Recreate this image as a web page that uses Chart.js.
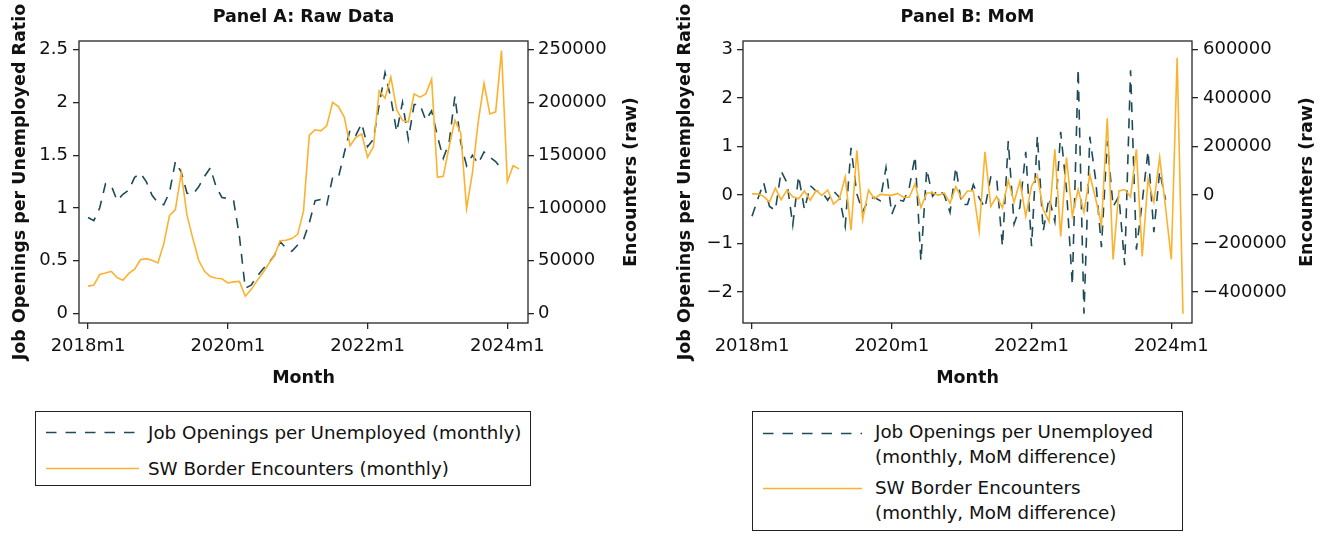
<!DOCTYPE html>
<html>
<head>
<meta charset="utf-8">
<title>Job Openings and SW Border Encounters</title>
<script src="https://cdn.jsdelivr.net/npm/chart.js@4.4.1/dist/chart.umd.min.js"></script>
<style>
  html, body { margin: 0; padding: 0; background: #ffffff; }
  body { width: 1326px; height: 533px; position: relative; overflow: hidden; font-family: "DejaVu Sans", sans-serif; }
  canvas { position: absolute; top: 0; }
  .lg { position: absolute; box-sizing: border-box; border: 1px solid #222; background: #fff; }
  .lg svg { position: absolute; left: 0; top: 0; }
  .lt { position: absolute; font-size: 18.3px; line-height: 25px; color: #111; white-space: nowrap; }
</style>
</head>
<body>
<canvas id="panelA" width="663" height="395" style="left:0px"></canvas>
<canvas id="panelB" width="663" height="395" style="left:663px"></canvas>

<div class="lg" style="left:35px; top:411px; width:496px; height:75px;">
  <svg width="494" height="73">
    <line x1="10" x2="103" y1="20.5" y2="20.5" stroke="#1d4b58" stroke-width="1.3" stroke-dasharray="10.5 9"></line>
    <line x1="10" x2="103" y1="56.5" y2="56.5" stroke="#fbb22e" stroke-width="1.3"></line>
  </svg>
  <div class="lt" style="left:112px; top:8px;">Job Openings per Unemployed (monthly)</div>
  <div class="lt" style="left:112px; top:44px;">SW Border Encounters (monthly)</div>
</div>

<div class="lg" style="left:752px; top:411px; width:431px; height:120px;">
  <svg width="429" height="118">
    <line x1="10" x2="109" y1="21.5" y2="21.5" stroke="#1d4b58" stroke-width="1.3" stroke-dasharray="10.5 9"></line>
    <line x1="10" x2="109" y1="76.5" y2="76.5" stroke="#fbb22e" stroke-width="1.3"></line>
  </svg>
  <div class="lt" style="left:122px; top:7px;">Job Openings per Unemployed<br>(monthly, MoM difference)</div>
  <div class="lt" style="left:122px; top:63px;">SW Border Encounters<br>(monthly, MoM difference)</div>
</div>

<script>
// Monthly series, January 2018 onward (index 0 = 2018m1).
const months = [];
for (let y = 2018; y <= 2024; y++) for (let m = 1; m <= 12; m++) months.push(y + 'm' + m);

// Panel A: levels
const jobRatioRaw = [
  0.91, 0.88, 1.00, 1.23, 1.21, 1.07, 1.13, 1.17, 1.29, 1.33, 1.25, 1.12,
  1.05, 1.03, 1.15, 1.44, 1.34, 1.14, 1.13, 1.20, 1.30, 1.38, 1.20, 1.10,
  1.09, 1.07, 0.73, 0.24, 0.27, 0.35, 0.42, 0.48, 0.55, 0.68, 0.62, 0.59,
  0.65, 0.70, 0.86, 1.07, 1.08, 1.03, 1.29, 1.29, 1.52, 1.74, 1.69, 1.80,
  1.58, 1.65, 1.98, 2.28, 2.04, 1.72, 2.00, 1.65, 1.98, 1.98, 1.83, 1.92,
  1.68, 1.47, 1.62, 2.06, 1.62, 1.40, 1.50, 1.42, 1.53, 1.48, 1.44, 1.37
];
const encountersRaw = [
  26000, 27000, 37000, 38500, 40000, 34000, 31500, 38000, 42000, 51000, 52000, 50500,
  48000, 66000, 93000, 98500, 133000, 93000, 71000, 50500, 40000, 35000, 33500, 33000,
  29000, 30000, 30500, 16400, 22700, 31000, 38500, 47000, 55000, 69000, 69500, 71000,
  75000, 97000, 169000, 174000, 173000, 178000, 200000, 196000, 186000, 159000, 167000, 170000,
  148000, 158000, 211000, 204000, 224000, 193000, 183000, 181500, 208000, 205000, 208000, 222000,
  129000, 130000, 158000, 183000, 171000, 99500, 133000, 181500, 218000, 189000, 191000, 249000,
  125000, 140000, 137000
];

// Panel B: month-over-month differences
const jobRatioMoM = [
  -0.44, -0.08, 0.25, -0.24, -0.32, 0.49, 0.25, -0.62, 0.39, -0.30, 0.19, 0.08,
  0.06, -0.11, 0.08, -0.05, -0.65, 0.97, 0.02, -0.35, -0.10, -0.05, -0.12, 0.56,
  -0.40, -0.10, -0.13, 0.15, 0.80, -1.36, 0.53, -0.03, 0.11, 0.00, -0.36, 0.57,
  -0.20, -0.20, 0.21, -0.06, -0.27, 0.37, 0.35, -1.06, 1.11, -0.60, -0.25, 0.89,
  -1.06, 1.22, -0.75, -0.06, -0.55, 1.30, 0.11, -1.86, 2.60, -2.45, 1.20, 0.32,
  -1.08, 1.11, -0.24, -0.03, -1.45, 2.57, -1.13, -0.15, 0.91, -0.77, 0.49, -0.10
];
const encountersMoM = [
  4000, 4000, -6000, -30000, 28000, -20000, 20000, -8000, -16000, 16000, -22000, 18000,
  -2000, 20000, -38000, -16000, 74000, -146000, 184000, -102000, 20000, -16000, 2000, 0,
  -2000, 6000, -10000, -10000, 46000, -52000, 8000, 8000, -2000, 8000, -34000, 34000,
  -16000, 16000, 16000, -150000, 178000, -48000, -6000, -54000, 60000, -30000, 56000, -88000,
  36000, 80000, -60000, -110000, 188000, -172000, 154000, -86000, 22000, -72000, 84000, -16000,
  -124000, 316000, -266000, 16000, 22000, -8000, 188000, -254000, 64000, -30000, 154000, -50000,
  -266000, 566000, -490000
];

// Axis ticks
const xTickValues = [0, 24, 48, 72];
const xTickLabels = ['2018m1', '2020m1', '2022m1', '2024m1'];
const ratioTicksA = [0, 0.5, 1, 1.5, 2, 2.5];
const ratioLabelsA = ['0', '0.5', '1', '1.5', '2', '2.5'];
const encTicksA = [0, 50000, 100000, 150000, 200000, 250000];
const encLabelsA = ['0', '50000', '100000', '150000', '200000', '250000'];
const ratioTicksB = [-2, -1, 0, 1, 2, 3];
const ratioLabelsB = ['\u22122', '\u22121', '0', '1', '2', '3'];
const encTicksB = [-400000, -200000, 0, 200000, 400000, 600000];
const encLabelsB = ['\u2212400000', '\u2212200000', '0', '200000', '400000', '600000'];

const TEAL = '#1d4b58';
const ORANGE = '#fbb22e';
const INK = '#111111';
const FRAME = '#262626';

Chart.defaults.font.family = '"DejaVu Sans", sans-serif';
Chart.defaults.font.size = 18;
Chart.defaults.color = INK;

// Box around the plot region
const plotFrame = {
  id: 'plotFrame',
  afterDraw(chart) {
    const a = chart.chartArea, ctx = chart.ctx;
    ctx.save();
    ctx.strokeStyle = FRAME;
    ctx.lineWidth = 1.3;
    ctx.strokeRect(a.left, a.top, a.right - a.left, a.bottom - a.top);
    ctx.restore();
  }
};

// Right-hand axis title, read bottom to top like the left one
const rightTitle = {
  id: 'rightTitle',
  afterDraw(chart, args, opts) {
    if (!opts || !opts.text) return;
    const a = chart.chartArea, ctx = chart.ctx;
    const sc = chart.scales.y1;
    ctx.save();
    ctx.font = 'bold 17.5px "DejaVu Sans", sans-serif';
    ctx.fillStyle = INK;
    ctx.textAlign = 'center';
    ctx.textBaseline = 'middle';
    ctx.translate(sc.right - opts.inset, (a.top + a.bottom) / 2);
    ctx.rotate(-Math.PI / 2);
    ctx.fillText(opts.text, 0, 0);
    ctx.restore();
  }
};
Chart.register(plotFrame, rightTitle);

const toPoints = arr => arr.map((v, i) => ({ x: i, y: v }));

function yAxis(position, min, max, tickValues, tickLabels, width, pad, title, titlePad) {
  return {
    type: 'linear',
    position,
    min, max,
    afterBuildTicks: s => { s.ticks = tickValues.map(v => ({ value: v })); },
    afterFit: s => { s.width = width; },
    ticks: { callback: (v, i) => tickLabels[i], padding: pad, autoSkip: false, color: INK, font: { size: 18 } },
    grid: { drawOnChartArea: false, drawTicks: true, tickLength: 6, color: FRAME, lineWidth: 1.3 },
    border: { display: false },
    title: title
      ? { display: true, text: title, color: INK, font: { size: 17.5, weight: 'bold' }, padding: { top: titlePad, bottom: 0 } }
      : { display: false }
  };
}

function xAxis() {
  return {
    type: 'linear',
    min: -1.55, max: 75.55,
    afterBuildTicks: s => { s.ticks = xTickValues.map(v => ({ value: v })); },
    afterFit: s => { s.height = 72; },
    ticks: { callback: (v, i) => xTickLabels[i], padding: 7, autoSkip: false, maxRotation: 0, color: INK, font: { size: 18 } },
    grid: { drawOnChartArea: false, drawTicks: true, tickLength: 6, color: FRAME, lineWidth: 1.3 },
    border: { display: false },
    title: { display: true, text: 'Month', color: INK, font: { size: 17.5, weight: 'bold' }, padding: { top: 0, bottom: 6.5 } }
  };
}

function panel(id, cfg) {
  return new Chart(document.getElementById(id), {
    type: 'line',
    data: {
      datasets: [
        {
          label: cfg.jobLabel, data: toPoints(cfg.job), yAxisID: 'y',
          borderColor: TEAL, borderWidth: 1.6, borderDash: [10, 8],
          pointRadius: 0, tension: 0, fill: false, order: 2
        },
        {
          label: cfg.encLabel, data: toPoints(cfg.enc), yAxisID: 'y1',
          borderColor: ORANGE, borderWidth: 1.6,
          pointRadius: 0, tension: 0, fill: false, order: 1
        }
      ]
    },
    options: {
      responsive: false,
      animation: false,
      layout: { padding: 0 },
      plugins: {
        legend: { display: false },
        tooltip: { enabled: false },
        title: {
          display: true, text: cfg.title, fullSize: false, color: INK,
          font: { size: 17.5, weight: 'bold' }, padding: { top: 7, bottom: 13 }
        },
        rightTitle: { text: 'Encounters (raw)', inset: cfg.rightInset }
      },
      scales: {
        x: xAxis(),
        y: yAxis('left', cfg.yMin, cfg.yMax, cfg.yTicks, cfg.yLabels, cfg.leftW, cfg.leftPad,
                 'Job Openings per Unemployed Ratio', cfg.leftTitlePad),
        y1: yAxis('right', cfg.y1Min, cfg.y1Max, cfg.y1Ticks, cfg.y1Labels, cfg.rightW, cfg.rightPad, null, 0)
      }
    }
  });
}

panel('panelA', {
  title: 'Panel A: Raw Data',
  jobLabel: 'Job Openings per Unemployed (monthly)',
  encLabel: 'SW Border Encounters (monthly)',
  job: jobRatioRaw, enc: encountersRaw,
  yMin: -0.089, yMax: 2.581, yTicks: ratioTicksA, yLabels: ratioLabelsA,
  y1Min: -8900, y1Max: 258100, y1Ticks: encTicksA, y1Labels: encLabelsA,
  leftW: 79, leftPad: 5, leftTitlePad: 9.5,
  rightW: 135, rightPad: 4, rightInset: 32
});

panel('panelB', {
  title: 'Panel B: MoM',
  jobLabel: 'Job Openings per Unemployed (monthly, MoM difference)',
  encLabel: 'SW Border Encounters (monthly, MoM difference)',
  job: jobRatioMoM, enc: encountersMoM,
  yMin: -2.643, yMax: 3.174, yTicks: ratioTicksB, yLabels: ratioLabelsB,
  y1Min: -528600, y1Max: 634800, y1Ticks: encTicksB, y1Labels: encLabelsB,
  leftW: 80, leftPad: 4, leftTitlePad: 11.5,
  rightW: 134, rightPad: 5, rightInset: 19
});
</script>
</body>
</html>
